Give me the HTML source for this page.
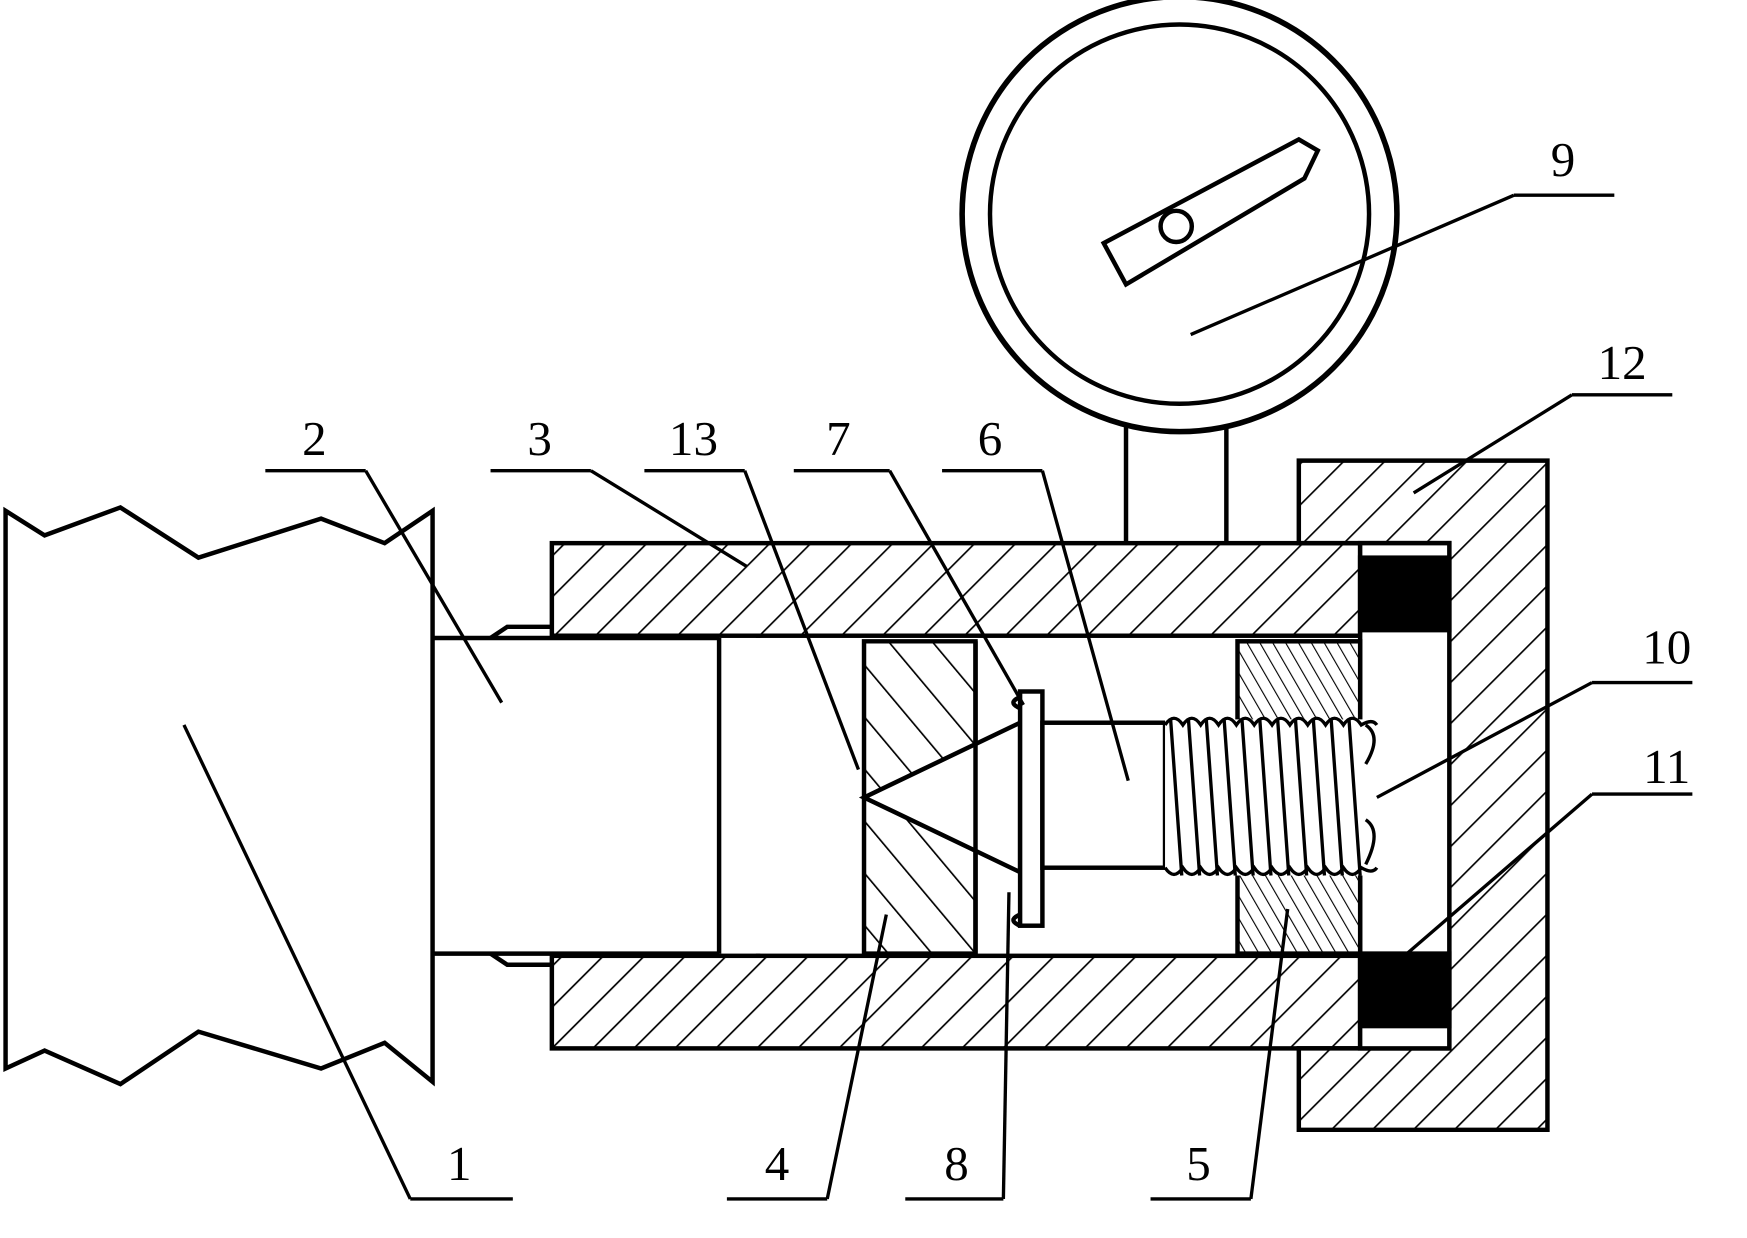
<!DOCTYPE html>
<html><head><meta charset="utf-8"><style>html,body{margin:0;padding:0;background:#fff}svg{display:block}</style></head><body>
<svg width="1747" height="1238" viewBox="0 0 1567 1110" preserveAspectRatio="none" xmlns="http://www.w3.org/2000/svg">
<defs>
<pattern id="h" width="26" height="26" patternUnits="userSpaceOnUse" patternTransform="rotate(45)"><rect width="26" height="26" fill="#fff"/><line x1="0" y1="0" x2="0" y2="26" stroke="#000" stroke-width="3"/></pattern>
<pattern id="h2" width="30" height="30" patternUnits="userSpaceOnUse" patternTransform="rotate(-40)"><rect width="30" height="30" fill="#fff"/><line x1="0" y1="0" x2="0" y2="30" stroke="#000" stroke-width="3"/></pattern>
<pattern id="h3" width="10" height="10" patternUnits="userSpaceOnUse" patternTransform="rotate(-30)"><rect width="10" height="10" fill="#fff"/><line x1="0" y1="0" x2="0" y2="10" stroke="#000" stroke-width="2"/></pattern>
</defs>
<g stroke="#000" stroke-width="4" fill="none">
<path d="M5,458 L40,480 L108,455 L178,500 L288,465 L345,487 L388,458 L388,970 L345,935 L288,958 L178,925 L108,972 L40,942 L5,958 Z" fill="#fff"/>
<line x1="388" y1="572" x2="645" y2="572"/><line x1="388" y1="855" x2="645" y2="855"/>
<line x1="645" y1="572" x2="645" y2="855"/>
<path d="M440,572 L455,562 L680,562 L680,572"/><path d="M440,855 L455,865 L680,865 L680,855"/>
<rect x="495" y="487" width="725" height="83" fill="url(#h)"/>
<rect x="495" y="857" width="725" height="83" fill="url(#h)"/>
<path d="M1165,413 L1388,413 L1388,1013 L1165,1013 L1165,940 L1300,940 L1300,487 L1165,487 Z" fill="url(#h)"/>
<rect x="1220" y="487" width="80" height="453" fill="#fff"/>
<rect x="1220" y="500" width="80" height="65" fill="#000"/>
<rect x="1220" y="855" width="80" height="65" fill="#000"/>
<path d="M775,575 L875,575 L875,855 L775,855 Z" fill="url(#h2)"/>
<path d="M775,715 L915,648 L915,782 Z" fill="#fff"/>
<line x1="875" y1="575" x2="875" y2="855"/>
<rect x="1110" y="575" width="110" height="280" fill="url(#h3)"/>
<rect x="915" y="620" width="20" height="210" fill="#fff"/>
<path d="M915,625 q-12,5 0,10 M915,820 q-12,5 0,10"/>
<rect x="935" y="648" width="110" height="130" fill="#fff"/>
<rect x="1045" y="645" width="180" height="140" fill="#fff" stroke="none"/>
<g stroke-width="3">
<path d="M1045,650 q8,-12 16,0 q8,-12 16,0 q8,-12 16,0 q8,-12 16,0 q8,-12 16,0 q8,-12 16,0 q8,-12 16,0 q8,-12 16,0 q8,-12 16,0 q8,-12 16,0 q8,-12 16,0 q10,-6 14,0"/>
<path d="M1045,778 q8,12 16,0 q8,12 16,0 q8,12 16,0 q8,12 16,0 q8,12 16,0 q8,12 16,0 q8,12 16,0 q8,12 16,0 q8,12 16,0 q8,12 16,0 q8,12 16,0 q10,6 14,0"/>
<path d="M1050,645 L1060,785 M1066,645 L1076,785 M1082,645 L1092,785 M1098,645 L1108,785 M1114,645 L1124,785 M1130,645 L1140,785 M1146,645 L1156,785 M1162,645 L1172,785 M1178,645 L1188,785 M1194,645 L1204,785 M1210,645 L1220,785"/>
<path d="M1225,650 q15,10 0,35 M1225,735 q15,10 0,40"/>
</g>
<line x1="1010" y1="370" x2="1010" y2="487"/><line x1="1100" y1="370" x2="1100" y2="487"/>
<circle cx="1058" cy="192" r="195" fill="#fff" stroke-width="5"/>
<circle cx="1058" cy="192" r="170"/>
<path d="M990,218 L1165,125 L1182,135 L1170,160 L1010,255 Z" fill="#fff"/>
<circle cx="1055" cy="203" r="14" fill="#fff"/>
<g stroke-width="3">
<line x1="238" y1="422" x2="328" y2="422"/><line x1="328" y1="422" x2="450" y2="630"/>
<line x1="440" y1="422" x2="530" y2="422"/><line x1="530" y1="422" x2="670" y2="508"/>
<line x1="578" y1="422" x2="668" y2="422"/><line x1="668" y1="422" x2="770" y2="690"/>
<line x1="712" y1="422" x2="798" y2="422"/><line x1="798" y1="422" x2="918" y2="632"/>
<line x1="845" y1="422" x2="935" y2="422"/><line x1="935" y1="422" x2="1012" y2="700"/>
<line x1="1358" y1="175" x2="1448" y2="175"/><line x1="1358" y1="175" x2="1068" y2="300"/>
<line x1="1410" y1="354" x2="1500" y2="354"/><line x1="1410" y1="354" x2="1268" y2="442"/>
<line x1="1428" y1="612" x2="1518" y2="612"/><line x1="1428" y1="612" x2="1235" y2="715"/>
<line x1="1428" y1="712" x2="1518" y2="712"/><line x1="1428" y1="712" x2="1262" y2="855"/>
<line x1="368" y1="1075" x2="460" y2="1075"/><line x1="368" y1="1075" x2="165" y2="650"/>
<line x1="652" y1="1075" x2="742" y2="1075"/><line x1="742" y1="1075" x2="795" y2="820"/>
<line x1="812" y1="1075" x2="900" y2="1075"/><line x1="900" y1="1075" x2="905" y2="800"/>
<line x1="1032" y1="1075" x2="1122" y2="1075"/><line x1="1122" y1="1075" x2="1155" y2="815"/>
</g>
</g>
<g font-family="Liberation Serif, serif" font-size="44" fill="#000" text-anchor="middle">
<text x="282" y="408">2</text><text x="484" y="408">3</text><text x="622" y="408">13</text>
<text x="752" y="408">7</text><text x="888" y="408">6</text><text x="1402" y="158">9</text>
<text x="1455" y="340">12</text><text x="1495" y="595">10</text><text x="1495" y="702">11</text>
<text x="412" y="1058">1</text><text x="697" y="1058">4</text><text x="858" y="1058">8</text>
<text x="1075" y="1058">5</text>
</g>
</svg>
</body></html>
